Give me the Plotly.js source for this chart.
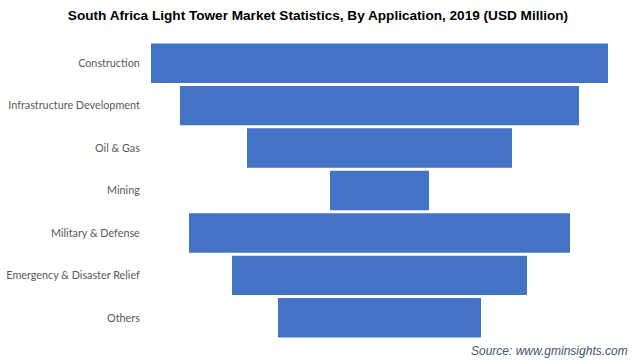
<!DOCTYPE html>
<html>
<head>
<meta charset="utf-8">
<script src="https://cdn.plot.ly/plotly-3.0.1.min.js"></script>
<style>html,body{margin:0;padding:0;background:#fff;}#chart{width:636px;height:364px;}</style>
</head>
<body>
<div id="chart"></div>
<script>
const categories = ["Construction", "Infrastructure Development", "Oil & Gas", "Mining", "Military & Defense", "Emergency & Disaster Relief", "Others"];
const values = [457, 399, 265, 99, 381, 295, 203];

const trace = {
  type: 'funnel',
  y: categories,
  x: values,
  textinfo: 'none',
  hoverinfo: 'y+x',
  marker: {color: '#4472C4', line: {width: 0}},
  connector: {visible: false}
};

const layout = {
  width: 636, height: 364,
  margin: {l: 151, r: 28, t: 41.5, b: 24.5},
  paper_bgcolor: '#fff', plot_bgcolor: '#fff',
  funnelgap: 0.07,
  showlegend: false,
  title: {
    text: '<b>South Africa Light Tower Market Statistics, By Application, 2019 (USD Million)</b>',
    font: {family: 'Liberation Sans, Arial, sans-serif', size: 13.6, color: '#000'},
    x: 0.5, xanchor: 'center', y: 0.958, yanchor: 'middle'
  },
  xaxis: {range: [-228.5, 228.5], visible: false, showgrid: false, zeroline: false, fixedrange: true},
  yaxis: {
    showgrid: false, zeroline: false, showline: false,
    ticks: 'outside', ticklen: 8, tickcolor: 'rgba(0,0,0,0)',
    tickfont: {family: 'Lato, Noto Sans, sans-serif', size: 10.8, color: '#595959'}
  },
  annotations: [{
    text: '<i>Source: www.gminsights.com</i>',
    xref: 'paper', yref: 'paper', x: 1.048, y: -0.04, xanchor: 'right', yanchor: 'middle',
    showarrow: false,
    font: {family: 'Liberation Sans, Arial, sans-serif', size: 12, color: '#44546A'}
  }]
};

Plotly.newPlot('chart', [trace], layout, {displayModeBar: false, staticPlot: true});
</script>
</body>
</html>
